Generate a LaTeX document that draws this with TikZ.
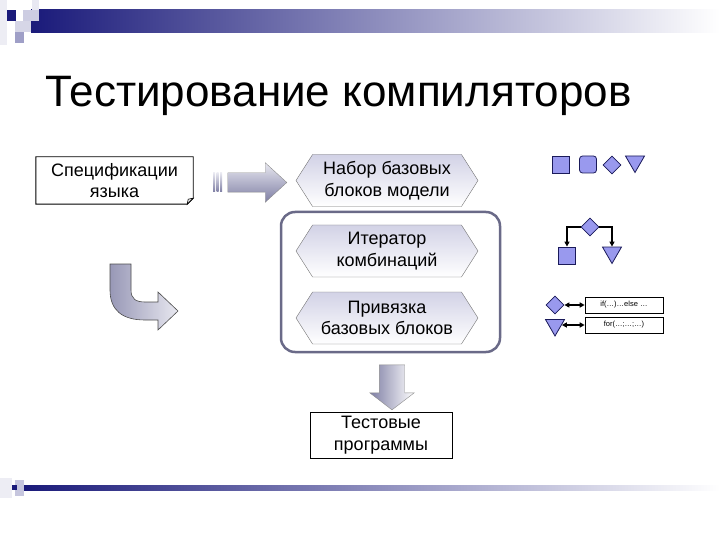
\documentclass[tikz,border=0pt]{standalone}
\usepackage{fontspec}
\setmainfont{Liberation Sans}
\usetikzlibrary{arrows.meta,shapes.geometric,shapes.symbols,shapes.arrows}
\definecolor{navy}{HTML}{1A1A7A}
\definecolor{iconfill}{HTML}{9999EE}
\definecolor{iconline}{HTML}{1A1A5A}
\definecolor{grpline}{HTML}{6A6A88}
\definecolor{arrowdark}{HTML}{7E7EA4}
\definecolor{arrowlight}{HTML}{E8E8F0}
\definecolor{hexfill}{HTML}{D2D2E6}
\tikzset{
  txt/.style={font=\fontsize{18}{21.5}\selectfont,align=center,inner sep=0pt},
  docbox/.style={txt,draw,line width=0.9pt},
  hexblk/.style={txt,signal,signal to=west and east,signal pointer angle=115,draw=black!55,
    top color=hexfill,bottom color=white,minimum width=182pt,minimum height=52pt},
  grpbox/.style={draw=grpline,line width=2.5pt,rounded corners=14pt},
  blkArrow/.style={single arrow,draw=black!45,line width=0.4pt,inner xsep=0pt},
  icon/.style={fill=iconfill,draw=iconline,line width=0.8pt,inner sep=0pt},
  isq/.style={icon,rectangle,minimum size=17pt},
  irsq/.style={isq,rounded corners=3pt},
  idia/.style={icon,diamond,minimum size=18pt},
  itri/.style={icon,regular polygon,regular polygon sides=3,regular polygon rotate=180,minimum size=22pt},
  codebox/.style={draw,line width=0.6pt,minimum width=78pt,minimum height=16pt,inner sep=0pt,
    font=\fontsize{7.5}{9}\selectfont},
  linkArrow/.style={-{Triangle[length=5pt,width=5pt]},line width=1.6pt},
  biArrow/.style={{Triangle[length=5pt,width=5pt]}-{Triangle[length=5pt,width=5pt]},line width=1.6pt}
}
\begin{document}
\begin{tikzpicture}[x=1pt,y=-1pt]
  \useasboundingbox (0,0) rectangle (720,540);
  \fill[navy!8] (0,0) rectangle (7,45);
  \shade[left color=navy,middle color=navy!30!white,right color=white] (31,10) rectangle (720,33);
  \fill[navy] (7,10) rectangle (16,21);
  \fill[navy!22] (23,10) rectangle (39,21);
  \fill[navy!10] (32,0) rectangle (39,10);
  \fill[navy!18] (15,21) rectangle (31,32);
  \fill[navy!42] (15,32) rectangle (24,43);
  \fill[navy!8] (0,478) rectangle (12,498);
  \shade[left color=navy,middle color=navy!30!white,right color=white] (24,485) rectangle (720,490);
  \fill[navy!25] (15,480) rectangle (24,496);
  \fill[navy] (12,485) rectangle (17,490);

  \node[anchor=base west,font=\fontsize{44}{50}\selectfont,inner sep=0pt] (title) at (45,107)
    {Тестирование компиляторов};

  \node[txt,minimum width=157pt,minimum height=47pt] (spec) at (114.5,180.5) {Спецификации\\языка};
  \draw[line width=0.9pt] (spec.north west) -- (spec.north east) -- ([yshift=6pt]spec.south east)
    -- ([xshift=-6pt]spec.south east) -- (spec.south west) -- cycle;
  \draw[line width=0.6pt,fill=black!10] ([yshift=6pt]spec.south east) -- ([xshift=-6pt]spec.south east)
    -- ([xshift=-5pt,yshift=5pt]spec.south east) -- cycle;

  \foreach \x in {213,216.5,220}
    \shade[top color=arrowlight,bottom color=arrowdark] (\x,173) rectangle ++(2,19);
  \node[blkArrow,top color=arrowlight,bottom color=arrowdark,minimum height=59pt,inner ysep=9.5pt,
    single arrow head extend=10pt,single arrow tip angle=85] (toset) at (252,182.5) {};

  \node[grpbox,minimum width=219pt,minimum height=140pt] (grp) at (390.5,282) {};
  \node[hexblk] (set) at (387,180.5) {Набор базовых\\блоков модели};
  \node[hexblk] (iter) at (387,251) {Итератор\\комбинаций};
  \node[hexblk] (bind) at (387,318) {Привязка\\базовых блоков};

  \node[blkArrow,rotate=-90,left color=arrowdark,right color=white,minimum height=45pt,inner ysep=12.5pt,
    single arrow head extend=9.5pt,single arrow tip angle=105] (totest) at (392,382.5) {};
  \node[docbox,minimum width=142pt,minimum height=46pt] (tests) at (381,435) {Тестовые\\программы};

  \shade[left color=arrowdark!80,right color=arrowlight,draw=black!70,line width=0.6pt]
    (110,264) -- (131,264) -- (131,290) .. controls (131,299) and (136,302) .. (145,302)
    -- (158,302) -- (158,292) -- (178,311) -- (158,330) -- (158,320) -- (145,320)
    .. controls (122,320) and (110,310) .. (110,290) -- cycle;

  \node[isq] (sq) at (561,164.5) {};
  \node[irsq] (rsq) at (588,164.5) {};
  \node[idia] (dia) at (612,165) {};
  \node[itri] (tri) at (635,161.5) {};

  \node[idia] (tdia) at (590,227) {};
  \node[isq] (tsq) at (567,255.5) {};
  \node[itri] (ttri) at (612,252.5) {};
  \draw[linkArrow] (tdia.west) -| (tsq.north);
  \draw[linkArrow] (tdia.east) -| (ttri.north);

  \node[idia] (cdia) at (555,305) {};
  \node[itri] (ctri) at (555,325) {};
  \node[codebox] (cif) at (624,305) {if(…)…else …};
  \node[codebox] (cfor) at (624,325) {for(…;…;…)};
  \draw[biArrow] (cdia) -- (cif);
  \draw[biArrow] (ctri) -- (cfor);
\end{tikzpicture}
\end{document}
